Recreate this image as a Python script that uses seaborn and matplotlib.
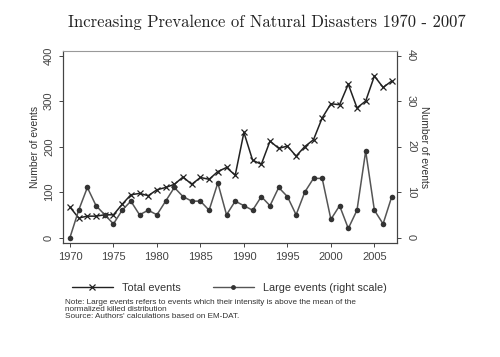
import numpy as np
import pandas as pd
import matplotlib
matplotlib.use("Agg")
import matplotlib.pyplot as plt
import seaborn as sns
from matplotlib.lines import Line2D

# data
years = list(range(1970, 2008))
total_events = [67, 43, 47, 47, 50, 50, 73, 94, 97, 92,
                105, 110, 117, 133, 117, 132, 128, 145, 154, 137,
                231, 170, 161, 212, 196, 201, 179, 200, 215, 263,
                294, 292, 337, 285, 300, 355, 330, 344]
large_events = [0, 6, 11, 7, 5, 3, 6, 8, 5, 6,
                5, 8, 11, 9, 8, 8, 6, 12, 5, 8,
                7, 6, 9, 7, 11, 9, 5, 10, 13, 13,
                4, 7, 2, 6, 19, 6, 3, 9]

df = pd.DataFrame({"year": years, "total": total_events, "large": large_events})

sns.set_style("ticks")
plt.rcParams['font.family'] = ['Liberation Sans', 'DejaVu Sans']

fig = plt.figure(figsize=(5, 3.57), dpi=100)
ax = fig.add_axes([63/500, 1-243/357, (397-63)/500, (243-51)/357])
ax2 = ax.twinx()

sns.lineplot(data=df, x="year", y="total", ax=ax, color="#222222", lw=1.1,
             marker="x", markersize=5, markeredgewidth=0.9, markeredgecolor="#222222")
sns.lineplot(data=df, x="year", y="large", ax=ax2, color="#555555", lw=1.1,
             marker="o", markersize=4, markeredgewidth=0, markerfacecolor="#333333")

ax.set_xlim(1969.2, 2007.6)
ax.set_ylim(-12, 410)
ax2.set_ylim(-1.2, 41)
ax.set_xticks([1970, 1975, 1980, 1985, 1990, 1995, 2000, 2005])
ax.set_yticks([0, 100, 200, 300, 400])
ax2.set_yticks([0, 10, 20, 30, 40])
ax.tick_params(axis="y", labelrotation=90, labelsize=8, colors="#444444", length=3, width=0.7)
ax.tick_params(axis="x", labelsize=8, colors="#444444", length=3, width=0.7)
ax2.tick_params(axis="y", labelrotation=270, labelsize=8, colors="#444444", length=3, width=0.7)
for t in ax.get_yticklabels():
    t.set_va("center")
for t in ax2.get_yticklabels():
    t.set_va("center")

ax.set_xlabel("")
ax.set_ylabel("Number of events", fontsize=7.5, color="#333333", labelpad=3)
ax2.set_ylabel("Number of events", fontsize=7.5, color="#333333", rotation=270, labelpad=9)

for a in (ax, ax2):
    for s in a.spines.values():
        s.set_linewidth(0.8)
        s.set_color("#444444")
ax2.spines["top"].set_linestyle((0, (2, 1)))
ax2.spines["top"].set_color("#999999")
ax.spines["top"].set_visible(False)

fig.text(267/500, 1-22/357, "Increasing Prevalence of Natural Disasters 1970 - 2007",
         family=["cmr10", "DejaVu Serif"], fontsize=12, ha="center", va="center", color="#222222")

handles = [Line2D([], [], color="#222222", lw=1.0, marker="x", markersize=4, markeredgewidth=0.9),
           Line2D([], [], color="#555555", lw=1.0, marker="o", markersize=3.5, markerfacecolor="#333333", markeredgewidth=0)]
fig.legend(handles, ["Total events", "Large events (right scale)"], loc="center",
           bbox_to_anchor=(229/500, 1-288/357), ncol=2, frameon=False, fontsize=7.8,
           handlelength=3.8, columnspacing=3.0, labelcolor="#333333")

fig.text(65/500, 1-299/357,
         "Note: Large events refers to events which their intensity is above the mean of the\n"
         "normalized killed distribution\n"
         "Source: Authors' calculations based on EM-DAT.",
         fontsize=5.9, ha="left", va="top", color="#333333", linespacing=1.0)

fig.savefig("out.png", dpi=100)
